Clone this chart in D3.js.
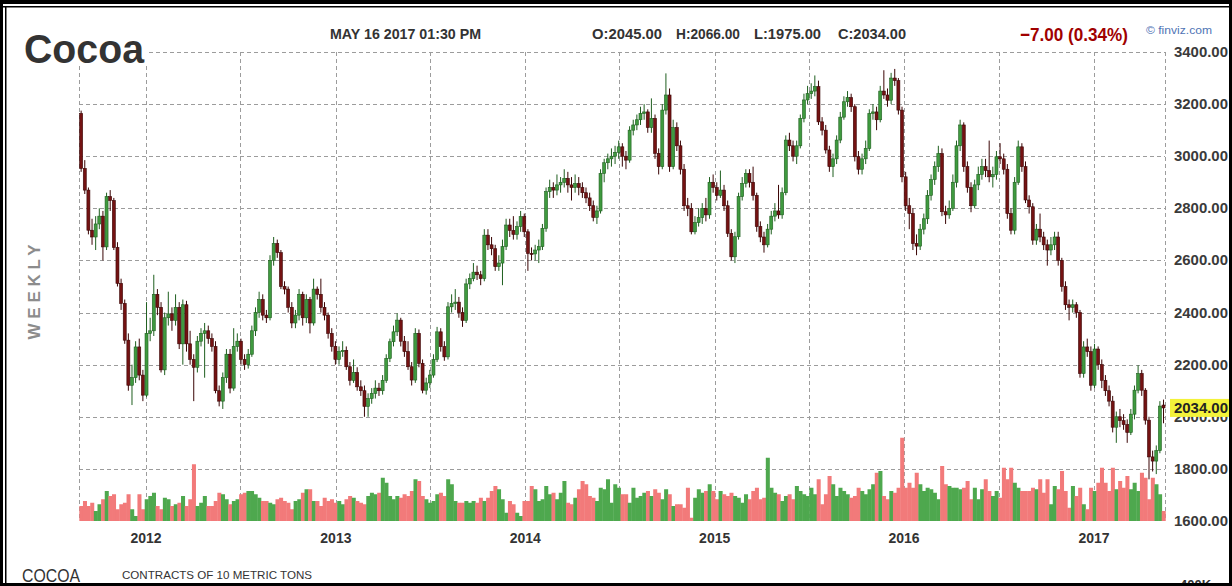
<!DOCTYPE html>
<html><head><meta charset="utf-8">
<script src="https://cdn.jsdelivr.net/npm/d3@7"></script>
<style>
html,body{margin:0;padding:0;background:#fff;}
svg{display:block;}
text{font-family:"Liberation Sans",Arial,sans-serif;}
</style></head><body>
<svg id="chart" width="1232" height="586"></svg>
<script>
// ---------- DATA (weekly bars, first week 2011-08-29) ----------
const firstWeek = "2011-08-29";
const firstOpen = 3164;
const closes = [
2953,2870,2716,2690,2740,2770,2652,2845,2830,2650,
2512,2435,2294,2121,2150,2268,2160,2083,2320,2330,
2470,2420,2180,2380,2395,2370,2420,2280,2430,2280,
2220,2190,2290,2320,2330,2300,2270,2100,2060,2150,
2240,2110,2270,2290,2220,2200,2240,2330,2400,2450,
2390,2380,2600,2665,2630,2500,2490,2420,2360,2390,
2470,2380,2450,2360,2490,2470,2420,2390,2320,2270,
2220,2250,2255,2192,2140,2170,2115,2100,2040,2070,
2090,2110,2100,2140,2224,2288,2326,2371,2290,2250,
2192,2141,2320,2205,2102,2130,2160,2220,2326,2269,
2230,2422,2435,2440,2400,2370,2510,2530,2555,2545,
2530,2697,2660,2645,2576,2590,2653,2736,2715,2700,
2730,2768,2710,2627,2625,2640,2653,2723,2864,2880,
2870,2890,2900,2915,2890,2880,2895,2880,2860,2840,
2810,2765,2790,2934,2975,2990,3000,3015,3036,3000,
2985,3100,3120,3140,3164,3170,3110,3145,3011,2960,
3177,3235,2960,3110,3040,2950,2810,2800,2710,2745,
2765,2800,2775,2900,2880,2850,2870,2810,2704,2614,
2691,2845,2896,2934,2900,2850,2730,2690,2660,2720,
2770,2790,2775,2860,3062,3040,3000,3040,3145,3216,
3240,3250,3267,3132,3100,3024,2960,2990,3062,3150,
3209,3225,3190,2998,2950,2990,3030,3164,3170,3140,
3250,3235,3215,3300,3290,3177,2921,2810,2780,2665,
2655,2720,2760,2850,2910,2960,3010,2787,2775,2800,
2900,3040,3120,2960,2880,2810,2890,2930,2960,2945,
2921,2930,2998,2990,2950,2780,2716,2900,3036,2960,
2832,2806,2678,2720,2690,2660,2640,2660,2690,2600,
2500,2430,2420,2430,2400,2166,2268,2250,2121,2260,
2200,2140,2100,2060,1960,2000,1985,1970,1940,2010,
2102,2166,2102,1987,1846,1830,1870,2041,2034
];
const highs = [
3175,2985,2880,2760,2770,2800,2790,2860,2870,2840,
2670,2530,2450,2320,2200,2290,2300,2180,2440,2380,
2545,2490,2440,2400,2480,2420,2470,2440,2450,2445,
2330,2240,2310,2340,2360,2350,2320,2290,2120,2170,
2260,2260,2340,2320,2300,2240,2260,2350,2420,2480,
2470,2410,2620,2690,2680,2640,2520,2500,2440,2410,
2490,2480,2470,2460,2530,2500,2530,2440,2400,2340,
2290,2270,2290,2270,2210,2220,2190,2140,2120,2090,
2110,2140,2130,2160,2240,2300,2350,2397,2380,2310,
2290,2210,2340,2335,2220,2150,2180,2240,2345,2340,
2290,2440,2470,2490,2460,2420,2530,2550,2590,2580,
2560,2720,2720,2690,2660,2620,2680,2760,2760,2770,
2750,2790,2780,2720,2650,2660,2680,2740,2880,2910,
2900,2930,2920,2950,2940,2920,2930,2920,2900,2880,
2860,2830,2810,2950,2990,3010,3030,3040,3060,3050,
3020,3115,3140,3160,3190,3200,3180,3222,3160,3030,
3200,3318,3260,3140,3130,3060,2970,2840,2820,2770,
2800,2820,2840,2920,2930,2900,2945,2890,2830,2720,
2710,2860,2920,2950,2950,2960,2860,2750,2710,2740,
2790,2820,2890,2880,3080,3090,3060,3060,3160,3240,
3270,3280,3310,3290,3150,3120,3040,3010,3080,3170,
3230,3250,3240,3200,3020,3010,3060,3180,3200,3190,
3270,3330,3260,3320,3335,3300,3190,2940,2840,2800,
2700,2740,2780,2870,2930,2980,3040,3030,2810,2830,
2930,3060,3140,3130,2980,2900,2910,2960,2990,2990,
3060,2960,3020,3050,3010,2970,2800,2920,3060,3050,
2980,2850,2820,2740,2780,2710,2680,2690,2710,2710,
2610,2520,2450,2450,2440,2410,2290,2300,2270,2280,
2270,2220,2160,2120,2080,2020,2030,2010,1990,2030,
2120,2198,2180,2110,2000,1870,1890,2060,2066
];
const lows = [
2940,2855,2700,2660,2640,2720,2600,2640,2790,2640,
2500,2410,2280,2100,2045,2130,2140,2060,2075,2290,
2310,2390,2170,2160,2350,2330,2350,2260,2200,2250,
2200,2060,2170,2270,2150,2280,2250,2090,2040,2030,
2130,2090,2100,2250,2200,2180,2185,2230,2310,2380,
2370,2360,2370,2580,2610,2490,2470,2400,2340,2340,
2370,2350,2360,2320,2350,2450,2400,2370,2300,2250,
2200,2200,2230,2180,2120,2130,2100,2080,2000,2000,
2050,2070,2080,2085,2130,2210,2270,2310,2270,2230,
2180,2120,2130,2190,2090,2085,2110,2150,2210,2250,
2215,2220,2400,2410,2380,2345,2360,2490,2520,2525,
2505,2520,2640,2620,2560,2560,2505,2640,2690,2680,
2680,2710,2690,2560,2600,2600,2590,2640,2710,2840,
2840,2850,2860,2880,2860,2830,2860,2850,2840,2820,
2790,2750,2740,2780,2900,2950,2960,2970,2990,2960,
2950,2975,3080,3100,3120,3140,3090,3090,2990,2930,
2950,3160,2940,2950,3020,2930,2790,2770,2700,2700,
2730,2740,2750,2760,2860,2830,2840,2790,2690,2600,
2590,2680,2830,2880,2880,2830,2710,2670,2630,2650,
2700,2750,2760,2760,2850,3020,2980,2970,3030,3130,
3200,3220,3230,3120,3080,3010,2940,2920,2970,3050,
3140,3190,3170,2980,2930,2930,2970,3020,3140,3100,
3130,3220,3190,3200,3270,3160,2900,2790,2720,2640,
2620,2640,2700,2740,2830,2890,2940,2770,2740,2760,
2790,2880,3020,2940,2860,2785,2800,2870,2910,2920,
2900,2880,2910,2970,2930,2760,2700,2700,2890,2940,
2820,2780,2660,2660,2670,2640,2580,2620,2640,2580,
2480,2410,2370,2400,2380,2150,2150,2230,2100,2110,
2180,2110,2080,2040,1940,1900,1960,1950,1900,1930,
1990,2090,2080,1970,1760,1790,1780,1860,1975
];
// weekly volume, thousands of contracts
const volumes = [
60,80,60,73,40,67,87,120,100,107,
47,67,73,107,47,20,107,47,87,100,
113,60,47,93,87,60,67,73,100,60,
87,227,60,73,100,60,60,80,113,107,
87,67,80,87,107,113,120,120,107,93,
80,80,73,67,87,93,80,73,47,80,
87,113,127,127,80,80,60,93,80,87,
73,80,67,87,100,93,80,73,67,100,
113,107,113,173,153,100,87,100,93,107,
100,120,167,160,100,87,73,80,107,113,
100,167,147,80,73,73,80,73,80,73,
93,80,93,120,140,127,87,33,80,67,
33,20,80,80,140,127,80,87,140,107,
113,87,113,160,73,67,93,127,160,147,
100,93,80,133,127,167,73,147,133,107,
107,73,133,93,100,113,120,100,127,113,
87,127,107,60,67,67,53,133,13,93,
127,113,120,147,120,87,120,107,100,113,
100,93,73,107,87,120,133,87,93,253,
133,113,107,80,100,107,87,140,120,107,
100,133,107,167,67,107,180,147,100,133,
120,107,93,100,133,120,107,127,147,193,
200,100,87,120,113,133,333,133,153,133,
193,147,120,133,127,113,87,220,147,140,
133,133,127,133,160,87,133,87,127,167,
120,100,120,93,213,167,213,153,133,120,
120,120,133,127,167,113,167,67,140,127,
200,120,53,140,100,133,67,47,133,120,
153,213,153,120,213,127,160,133,180,127,
153,120,193,173,87,173,147,107,40
];
const priceTicks = [3400,3200,3000,2800,2600,2400,2200,2000,1800,1600];
const yearLabels = ["2012","2013","2014","2015","2016","2017"];
const quoteTime = "MAY 16 2017 01:30 PM";
const lastOHLC = [2045.00, 2066.00, 1975.00, 2034.00];
const change = [-7.00, 0.34];

// ---------- CHART ----------
const svg = d3.select("#chart");
const fmt = d3.format(".2f");
const t0 = d3.timeParse("%Y-%m-%d")(firstWeek);
const dates = closes.map((_, i) => d3.timeDay.offset(t0, 7 * i));
const opens = closes.map((c, i) => i === 0 ? firstOpen : (i === closes.length - 1 ? lastOHLC[0] : closes[i - 1]));

const x = d3.scaleTime().domain([new Date(2012,0,1), new Date(2017,0,1)]).range([146, 1094]);
const y = d3.scaleLinear().domain([1600, 3400]).range([521, 52]);
const yv = d3.scaleLinear().domain([0, 400]).range([521, 421]);
const left = 79, right = 1165;
const step = x(dates[1]) - x(dates[0]);

svg.append("rect").attr("width",1232).attr("height",586).attr("fill","#fff");

// grid
const grid = svg.append("g").attr("stroke","#9c9c9c").attr("stroke-width",1).attr("stroke-dasharray","4,3").attr("fill","none");
grid.selectAll("line.h").data(priceTicks.filter(v => v > 1600)).join("line")
  .attr("x1", left).attr("x2", right).attr("y1", d => Math.round(y(d)) + 0.5).attr("y2", d => Math.round(y(d)) + 0.5);
const vDates = d3.timeMonth.every(6).range(new Date(2012,0,1), new Date(2017,0,2));
const vx = [left, ...vDates.map(d => x(d)), right];
grid.selectAll("line.v").data(vx).join("line")
  .attr("x1", d => Math.round(d) + 0.5).attr("x2", d => Math.round(d) + 0.5)
  .attr("y1", y(3400)).attr("y2", y(1600));

// volume
const up = closes.map((c, i) => c >= opens[i]);
svg.append("g").selectAll("rect").data(volumes).join("rect")
  .attr("x", (d, i) => x(dates[i]) - step / 2)
  .attr("width", step + 0.4)
  .attr("y", d => yv(d))
  .attr("height", d => yv(0) - yv(d))
  .attr("fill", (d, i) => up[i] ? "#4ea84e" : "#f27a7a");

// candles
const cg = svg.append("g");
closes.forEach((c, i) => {
  const o = opens[i], cx = x(dates[i]);
  const isUp = c >= o;
  const stroke = isUp ? "#1f5f1f" : "#3a0505";
  cg.append("line").attr("x1", cx).attr("x2", cx).attr("y1", y(highs[i])).attr("y2", y(lows[i]))
    .attr("stroke", stroke).attr("stroke-width", 1);
  const top = y(Math.max(o, c)), bot = y(Math.min(o, c));
  cg.append("rect").attr("x", cx - 1.5).attr("width", 3)
    .attr("y", top).attr("height", Math.max(1, bot - top))
    .attr("fill", isUp ? "#3f9a3f" : "#741212")
    .attr("stroke", stroke).attr("stroke-width", 0.6);
});

// title
svg.append("rect").attr("x", 8).attr("y", 14).attr("width", 140).attr("height", 52).attr("fill", "#fff");
svg.append("text").attr("x", 24).attr("y", 63).attr("font-size", 40).attr("font-weight", "bold")
  .attr("fill", "#333").attr("textLength", 120).attr("lengthAdjust", "spacingAndGlyphs").text("Cocoa");

// header
const hdr = [
  [quoteTime, 330, 151],
  ["O:" + fmt(lastOHLC[0]), 592, 70],
  ["H:" + fmt(lastOHLC[1]), 676, 64],
  ["L:" + fmt(lastOHLC[2]), 754, 67],
  ["C:" + fmt(lastOHLC[3]), 838, 68]
];
svg.append("g").selectAll("text").data(hdr).join("text")
  .attr("x", d => d[1]).attr("y", 39).attr("font-size", 15).attr("font-weight", "bold").attr("fill", "#333")
  .attr("textLength", d => d[2]).attr("lengthAdjust", "spacingAndGlyphs").text(d => d[0]);
svg.append("text").attr("x", 1020).attr("y", 41).attr("font-size", 19).attr("font-weight", "bold")
  .attr("fill", "#a00000").attr("textLength", 108).attr("lengthAdjust", "spacingAndGlyphs")
  .text(fmt(change[0]) + " (" + fmt(change[1]) + "%)");
svg.append("text").attr("x", 1146).attr("y", 34).attr("font-size", 11).attr("fill", "#4f74b5")
  .attr("textLength", 66).attr("lengthAdjust", "spacingAndGlyphs").text("\u00A9 finviz.com");

// price axis labels
svg.append("g").selectAll("text").data(priceTicks).join("text")
  .attr("x", 1174).attr("y", d => y(d) + 5).attr("font-size", 15).attr("font-weight", "bold").attr("fill", "#3a3a3a")
  .attr("textLength", 54).attr("lengthAdjust", "spacingAndGlyphs").text(d => fmt(d));
const lastY = y(lastOHLC[3]);
svg.append("rect").attr("x", 1170).attr("y", lastY - 9).attr("width", 59).attr("height", 18).attr("fill", "#f3f23a");
svg.append("text").attr("x", 1174).attr("y", lastY + 5).attr("font-size", 15).attr("font-weight", "bold").attr("fill", "#222")
  .attr("textLength", 54).attr("lengthAdjust", "spacingAndGlyphs").text(fmt(lastOHLC[3]));

// year labels
svg.append("g").selectAll("text").data(yearLabels).join("text")
  .attr("x", d => x(new Date(+d, 0, 1))).attr("y", 543).attr("text-anchor", "middle")
  .attr("font-size", 14).attr("font-weight", "bold").attr("fill", "#333").text(d => d);

// WEEKLY
svg.append("text").attr("transform", "translate(40,292) rotate(-90)").attr("text-anchor", "middle")
  .attr("font-size", 17).attr("font-weight", "bold").attr("fill", "#8c8c8c")
  .attr("textLength", 95).attr("lengthAdjust", "spacing").text("WEEKLY");

// footer
svg.append("text").attr("x", 22).attr("y", 582).attr("font-size", 18).attr("fill", "#333")
  .attr("textLength", 58).attr("lengthAdjust", "spacingAndGlyphs").text("COCOA");
svg.append("text").attr("x", 122).attr("y", 579).attr("font-size", 11).attr("fill", "#333")
  .attr("textLength", 190).attr("lengthAdjust", "spacingAndGlyphs").text("CONTRACTS OF 10 METRIC TONS");
svg.append("text").attr("x", 1180).attr("y", 589).attr("font-size", 13).attr("font-weight", "bold").attr("fill", "#333").text("400K");

// frame
const fr = svg.append("g").attr("fill", "#000");
fr.append("rect").attr("x", 0).attr("y", 0).attr("width", 1232).attr("height", 4);
fr.append("rect").attr("x", 0).attr("y", 6).attr("width", 1232).attr("height", 1.5);
fr.append("rect").attr("x", 0).attr("y", 0).attr("width", 3).attr("height", 586);
fr.append("rect").attr("x", 5).attr("y", 6).attr("width", 1.5).attr("height", 580);
fr.append("rect").attr("x", 0).attr("y", 583).attr("width", 1232).attr("height", 3);
fr.append("rect").attr("x", 1229).attr("y", 0).attr("width", 3).attr("height", 586);
</script>
</body></html>
